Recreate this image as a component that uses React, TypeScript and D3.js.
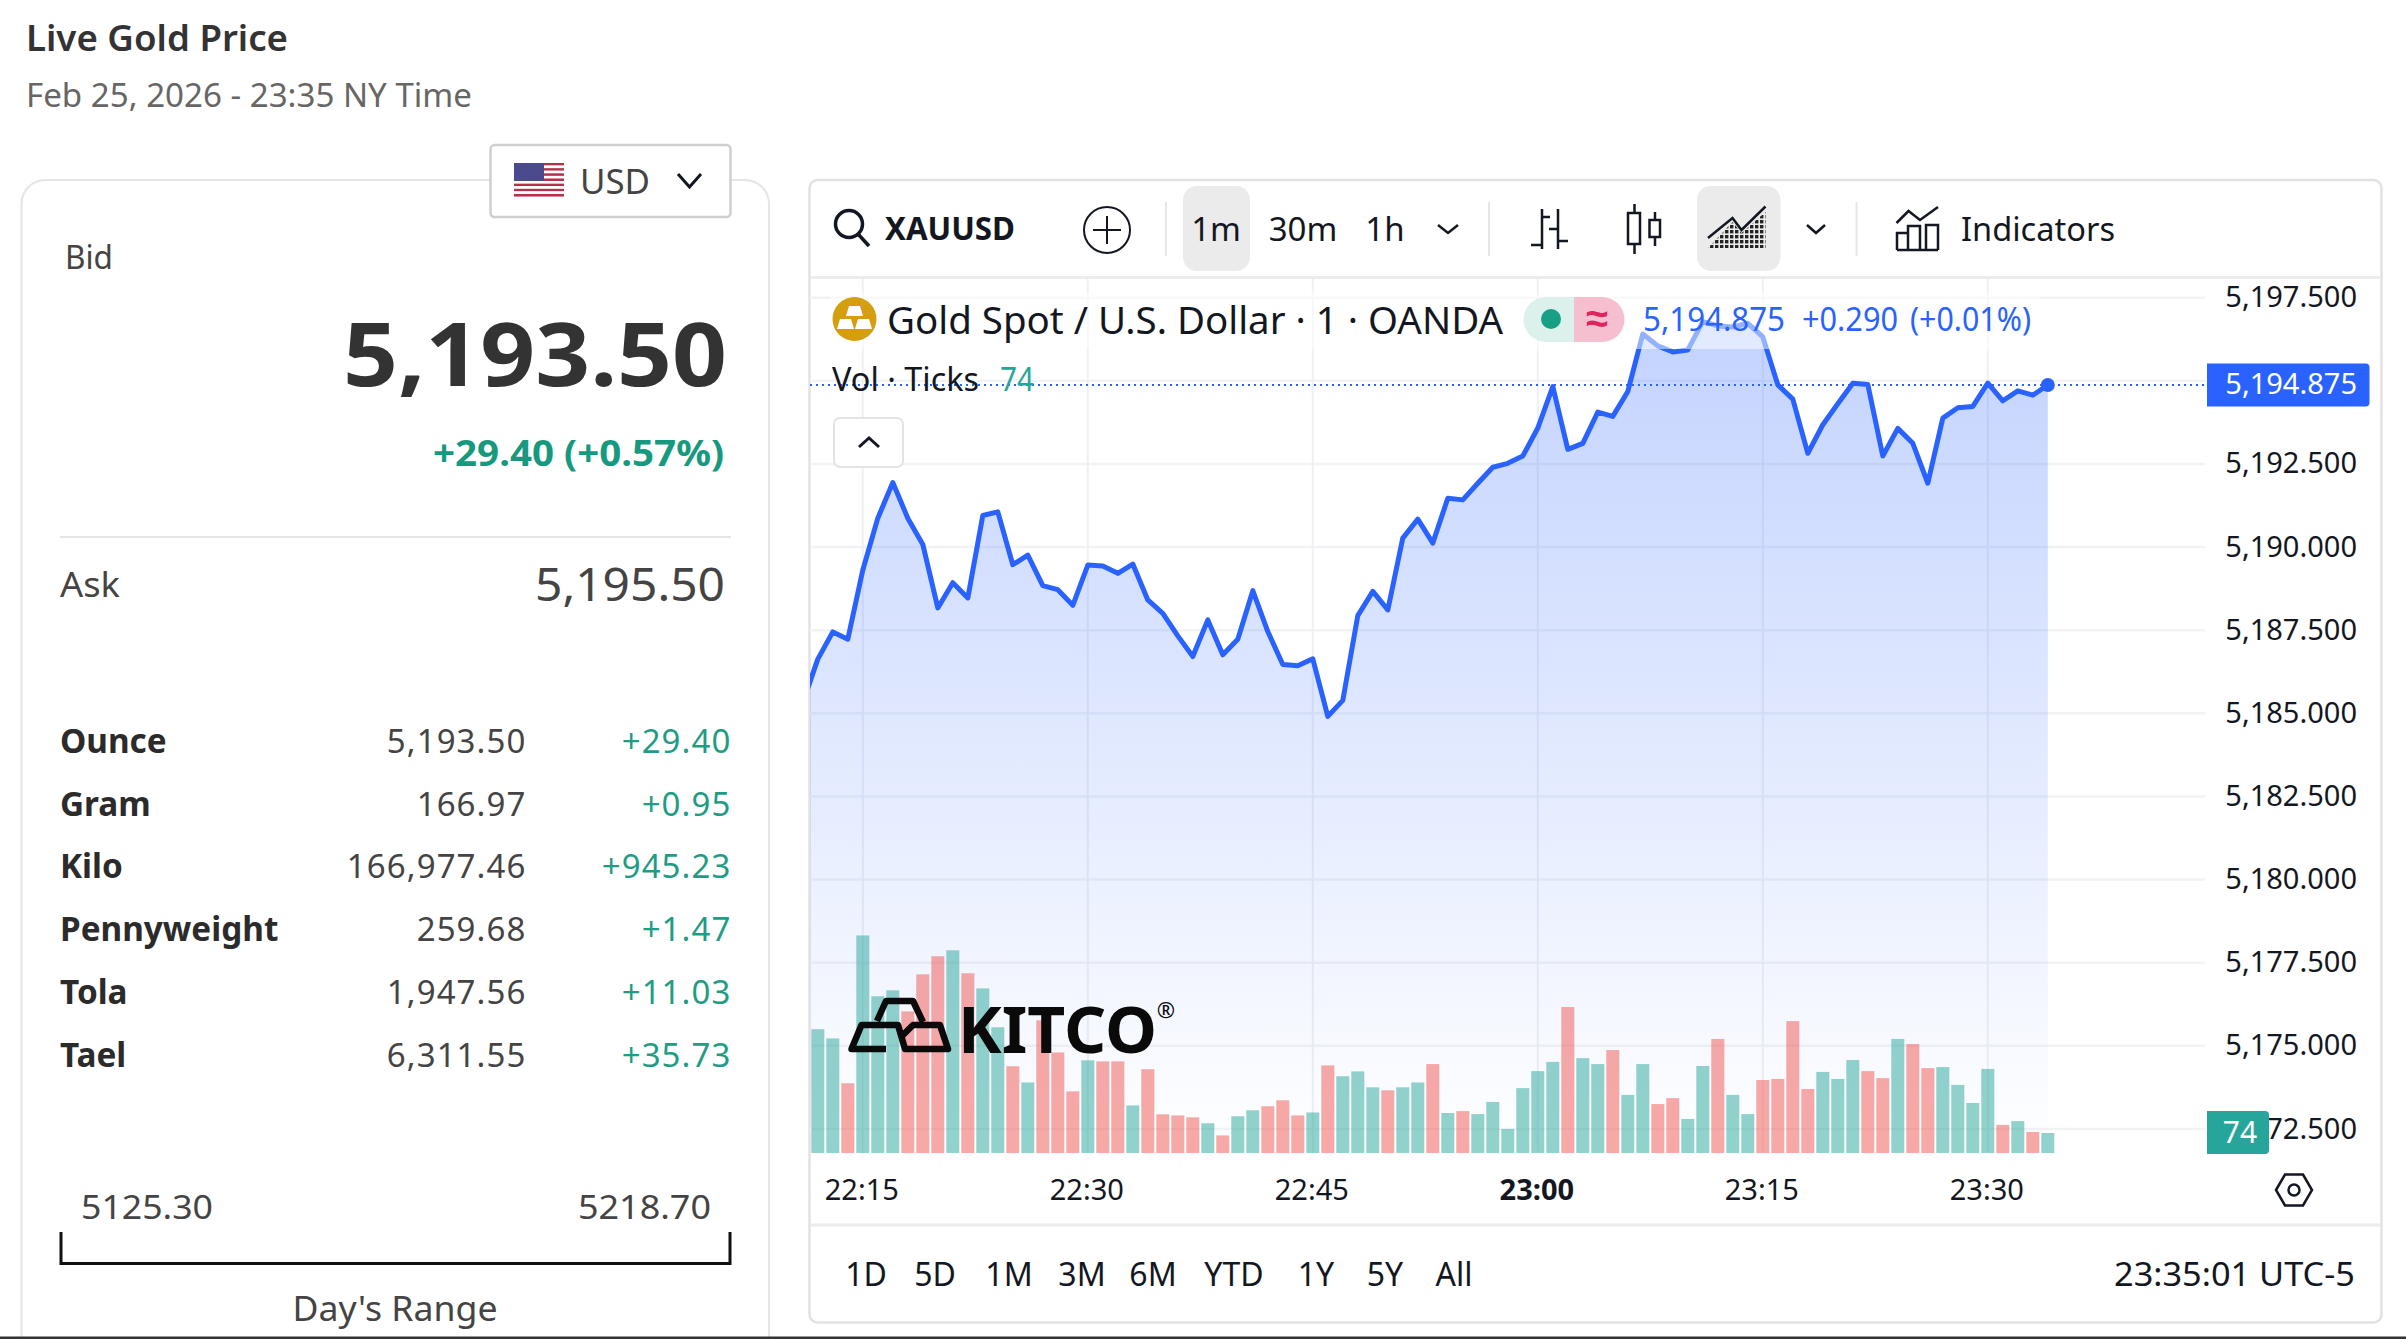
import React, { useRef, useEffect } from 'react';
import * as d3 from 'd3';

//price closes, one per minute from 22:11
const prices = [
  5185.32, 5186.63, 5187.45, 5187.23, 5189.31, 5190.87, 5191.94, 5190.87, 5190.08, 5188.17,
  5188.93, 5188.47, 5190.95, 5191.06, 5189.47, 5189.76, 5188.84, 5188.72, 5188.25, 5189.46,
  5189.43, 5189.21, 5189.49, 5188.41, 5188.01, 5187.33, 5186.71, 5187.81, 5186.76, 5187.23,
  5188.69, 5187.46, 5186.47, 5186.43, 5186.64, 5184.91, 5185.39, 5187.94, 5188.67, 5188.11,
  5190.27, 5190.84, 5190.12, 5191.47, 5191.42, 5191.92, 5192.40, 5192.52, 5192.74, 5193.58,
  5194.83, 5192.94, 5193.12, 5194.06, 5193.93, 5194.68, 5196.41, 5196.05, 5195.87, 5195.93,
  5196.78, 5196.65, 5196.62, 5196.73, 5196.32, 5194.88, 5194.45, 5192.82, 5193.68, 5194.31,
  5194.93, 5194.89, 5192.74, 5193.57, 5193.12, 5191.92, 5193.88, 5194.19, 5194.23, 5194.93,
  5194.40, 5194.70, 5194.57, 5194.875,
];

//tick volume, one per minute from 22:12
const volumes = [
  458, 424, 258, 805, 580, 602, 524, 661, 728, 750, 665, 609, 465, 321, 261, 491, 372, 228, 343, 339,
  339, 176, 310, 143, 139, 132, 110, 65, 136, 158, 173, 195, 139, 150, 324, 284, 302, 243, 232, 243,
  261, 329, 148, 155, 144, 189, 89, 240, 303, 337, 540, 351, 329, 381, 215, 329, 181, 203, 126, 322,
  422, 215, 144, 270, 274, 488, 237, 300, 274, 344, 303, 277, 422, 403, 314, 318, 252, 185, 311, 104,
  118, 78, 74,
];
//g = up bar, r = down bar
const volumeSides = 'ggrgggrrrgrggrgrrrgrrgrrrrgrggrrrgrgggrgg' + 'rgrggggggrggrggrrggrggrrrrgggrrgrrggggrgrg';

const priceTicks = [5197.5, 5195, 5192.5, 5190, 5187.5, 5185, 5182.5, 5180, 5177.5, 5175, 5172.5];
const priceTickLabels = [5197.5, 5192.5, 5190, 5187.5, 5185, 5182.5, 5180, 5177.5, 5175, 5172.5];
const timeTicks: [number, number][] = [[22, 15], [22, 30], [22, 45], [23, 0], [23, 15], [23, 30]];
const lastPrice = 5194.875;

const weightRows = ['Ounce', 'Gram', 'Kilo', 'Pennyweight', 'Tola', 'Tael'];
const weightValues = ['5,193.50', '166.97', '166,977.46', '259.68', '1,947.56', '6,311.55'];
const weightChanges = ['+29.40', '+0.95', '+945.23', '+1.47', '+11.03', '+35.73'];
const weightBaselines = [752.5, 815.5, 878, 940.5, 1003.5, 1066.5];

const rangeButtons = ['1D', '5D', '1M', '3M', '6M', 'YTD', '1Y', '5Y', 'All'];
const rangeCenters = [866, 935, 1009, 1082, 1153, 1234, 1316, 1385, 1454];

const minuteDate = (i: number) => new Date(2026, 1, 25, 22, 11 + i);
const INK = '#131722';
const BLUE = '#2962ff';
const FONT = '"Noto Sans", sans-serif';

const T = ({ x, y, s, size, w = 400, fill = '#333', a = 'start', len, ls, font = FONT }: any) => (
  <text x={x} y={y} fontSize={size} fontWeight={w} fill={fill} textAnchor={a} fontFamily={font} letterSpacing={ls}
    {...(len ? { textLength: len, lengthAdjust: 'spacingAndGlyphs' } : {})}>{s}</text>
);

const Chevron = ({ x, y, w, h, sw = 2.5 }: any) => (
  <path d={`M${x} ${y}L${x + w / 2} ${y + h}L${x + w} ${y}`} fill="none" stroke={INK} strokeWidth={sw} />
);

export default function App() {
  const chartRef = useRef<SVGGElement>(null);

  useEffect(() => {
    if (!chartRef.current) return;
    const g = d3.select(chartRef.current);
    g.selectAll('*').remove();

    //scales
    const xScale = d3.scaleTime()
      .domain([minuteDate(0), minuteDate(prices.length - 1)])
      .range([802.8, 2047.8]);
    const yScale = d3.scaleLinear().domain([5172.5, 5197.5]).range([1129, 297.7]);
    const volScale = d3.scaleLinear().domain([0, 74]).range([1153, 1133]);

    //grid
    priceTicks.forEach(p => {
      g.append('line').attr('x1', 810).attr('x2', 2205)
        .attr('y1', yScale(p)).attr('y2', yScale(p))
        .attr('stroke', '#f2f3f5').attr('stroke-width', 2.5);
    });
    timeTicks.forEach(([h, m]) => {
      const x = xScale(new Date(2026, 1, 25, h, m));
      g.append('line').attr('x1', x).attr('x2', x).attr('y1', 279).attr('y2', 1153)
        .attr('stroke', '#eef0f6').attr('stroke-width', 2);
    });

    //clip and gradient
    const defs = g.append('defs');
    defs.append('clipPath').attr('id', 'pane').append('rect')
      .attr('x', 810).attr('y', 279).attr('width', 1395).attr('height', 945);
    const grad = defs.append('linearGradient').attr('id', 'areaFill')
      .attr('gradientUnits', 'userSpaceOnUse')
      .attr('x1', 0).attr('x2', 0).attr('y1', yScale(d3.max(prices)!)).attr('y2', 1153);
    grad.append('stop').attr('offset', 0).attr('stop-color', BLUE).attr('stop-opacity', 0.28);
    grad.append('stop').attr('offset', 1).attr('stop-color', BLUE).attr('stop-opacity', 0);

    const pane = g.append('g').attr('clip-path', 'url(#pane)');

    const area = d3.area<number>()
      .x((_, i) => xScale(minuteDate(i)))
      .y0(1153)
      .y1(d => yScale(d));
    pane.append('path').datum(prices).attr('fill', 'url(#areaFill)').attr('d', area);

    //volume bars
    pane.selectAll('rect.vol').data(volumes).enter().append('rect')
      .attr('class', 'vol')
      .attr('x', (_, i) => xScale(minuteDate(i + 1)) - 6.5)
      .attr('width', 13)
      .attr('y', d => volScale(d))
      .attr('height', d => 1153 - volScale(d))
      .attr('fill', (_, i) => volumeSides[i] === 'g' ? 'rgba(38,166,154,0.5)' : 'rgba(239,83,80,0.5)');

    //price line
    const line = d3.line<number>()
      .x((_, i) => xScale(minuteDate(i)))
      .y(d => yScale(d));
    pane.append('path').datum(prices)
      .attr('fill', 'none').attr('stroke', BLUE).attr('stroke-width', 5)
      .attr('stroke-linejoin', 'round').attr('d', line);

    //last price line
    g.append('line').attr('x1', 810).attr('x2', 2206)
      .attr('y1', yScale(lastPrice)).attr('y2', yScale(lastPrice))
      .attr('stroke', BLUE).attr('stroke-width', 2).attr('stroke-dasharray', '2 4');
    g.append('circle').attr('cx', xScale(minuteDate(prices.length - 1))).attr('cy', yScale(lastPrice))
      .attr('r', 7).attr('fill', BLUE);

    //axes
    const yAxis = d3.axisRight(yScale)
      .tickValues(priceTickLabels)
      .tickSize(0)
      .tickFormat(d => d3.format(',.3f')(d as number));
    const yG = g.append('g').attr('transform', 'translate(2357, 0)').call(yAxis);
    yG.select('.domain').remove();
    yG.selectAll('text').attr('x', 0).attr('text-anchor', 'end').attr('dy', '0.31em')
      .attr('fill', INK).attr('font-size', 29).attr('font-family', FONT);

    const xAxis = d3.axisBottom(xScale)
      .tickValues(timeTicks.map(([h, m]) => new Date(2026, 1, 25, h, m)))
      .tickSize(0)
      .tickFormat(d => d3.timeFormat('%H:%M')(d as Date));
    const xG = g.append('g').attr('transform', 'translate(-1.5, 1170)').call(xAxis);
    xG.select('.domain').remove();
    xG.selectAll('text').attr('y', 0).attr('dy', 30)
      .attr('fill', INK).attr('font-size', 29).attr('font-family', FONT)
      .attr('font-weight', (d: any) => d.getHours() === 23 && d.getMinutes() === 0 ? 700 : 400);

    //volume tag on the scale
    const vy = volScale(volumes[volumes.length - 1]);
    g.append('path').attr('d', `M2207 ${vy - 22}H2265a4 4 0 0 1 4 4V${vy + 17}a4 4 0 0 1 -4 4H2207Z`)
      .attr('fill', '#26a69a');
    g.append('text').attr('x', 2240).attr('y', vy + 10).attr('text-anchor', 'middle')
      .attr('fill', '#fff').attr('font-size', 30).attr('font-family', FONT)
      .text(volumes[volumes.length - 1]);
  }, []);

  const flagStripes = d3.range(13);

  return (
    <svg width={2406} height={1339} style={{ position: 'fixed', left: 0, top: 0, background: '#fff' }}>
      <defs>
        <pattern id="hatch" width="5" height="5" patternUnits="userSpaceOnUse">
          <rect width="3.4" height="3.4" fill="#222" />
        </pattern>
      </defs>

      {/* page header */}
      <T x={26} y={50.5} s="Live Gold Price" size={36} w={600} fill="#333" len={262} />
      <T x={26} y={106.5} s="Feb 25, 2026 - 23:35 NY Time" size={33} fill="#666" len={446} />

      {/* left card */}
      <path d="M21.5 1337V204a24 24 0 0 1 24 -24H745a24 24 0 0 1 24 24V1337" fill="none" stroke="#e5e5e8" strokeWidth={2} />
      <rect x={490.5} y={145} width={240} height={72} rx={4} fill="#fff" stroke="#cfcfcf" strokeWidth={2.5} />
      {flagStripes.map(i => (
        <rect key={i} x={514} y={163 + i * 2.58} width={50} height={2.6} fill={i % 2 ? '#fff' : '#b5304a'} />
      ))}
      <rect x={514} y={163} width={30} height={18} fill="#4a4a8c" />
      <T x={580} y={194} s="USD" size={34} fill="#444" len={70} />
      <Chevron x={678} y={174} w={23} h={13} sw={3} />

      <T x={65} y={268.5} s="Bid" size={32} fill="#444" len={48} />
      <T x={727} y={385.5} s="5,193.50" size={88} w={700} a="end" fill="#333" len={384} />
      <T x={724} y={465.5} s="+29.40 (+0.57%)" size={36} w={700} a="end" fill="#16997f" len={291} />
      <line x1={60} x2={731} y1={537} y2={537} stroke="#e5e5e8" strokeWidth={2} />
      <T x={60} y={596.5} s="Ask" size={34} fill="#444" len={60} />
      <T x={725} y={601} s="5,195.50" size={45} a="end" fill="#444" len={190} />

      {weightRows.map((r, i) => (
        <g key={r}>
          <T x={60} y={weightBaselines[i]} s={r} size={33.3} w={700} fill="#2b2b2b" />
          <T x={526.5} y={weightBaselines[i]} s={weightValues[i]} size={33} a="end" fill="#444" ls={1.1} />
          <T x={731.5} y={weightBaselines[i]} s={weightChanges[i]} size={33} a="end" fill="#1f9c84" ls={1.1} />
        </g>
      ))}

      <T x={81} y={1218.5} s="5125.30" size={33} fill="#444" len={132} />
      <T x={578} y={1218.5} s="5218.70" size={33} fill="#444" len={133} />
      <path d="M61 1232V1263.5H730V1232" fill="none" stroke="#111" strokeWidth={3} />
      <T x={395} y={1320.5} s="Day's Range" size={34} a="middle" fill="#444" len={205} />

      {/* chart card */}
      <rect x={809.5} y={180} width={1572} height={1142.5} rx={8} fill="#fff" stroke="#e2e2e2" strokeWidth={2.5} />
      <line x1={810} x2={2381} y1={277.5} y2={277.5} stroke="#ececec" strokeWidth={3} />
      <line x1={810} x2={2381} y1={1225} y2={1225} stroke="#ececec" strokeWidth={3} />

      {/* toolbar */}
      <circle cx={849} cy={224} r={13.5} fill="none" stroke={INK} strokeWidth={3.5} />
      <line x1={858} x2={869} y1={234} y2={246} stroke={INK} strokeWidth={3.5} />
      <T x={885} y={240} s="XAUUSD" size={32} w={700} fill={INK} len={130} />
      <circle cx={1107} cy={230} r={23} fill="none" stroke={INK} strokeWidth={2} />
      <path d="M1107 216V244M1093 230H1121" stroke={INK} strokeWidth={2} />
      <line x1={1166} x2={1166} y1={202} y2={256} stroke="#e4e6ec" strokeWidth={2} />
      <rect x={1183} y={186} width={67} height={85} rx={14} fill="#ebebeb" />
      <T x={1216} y={241} s="1m" size={33} a="middle" fill={INK} />
      <T x={1303} y={241} s="30m" size={33} a="middle" fill={INK} />
      <T x={1385} y={241} s="1h" size={33} a="middle" fill={INK} />
      <Chevron x={1438} y={225} w={20} h={8} />
      <line x1={1489} x2={1489} y1={202} y2={256} stroke="#e4e6ec" strokeWidth={2} />
      <path d="M1542 209V249M1531 245H1542M1542 217H1550M1558 209V249M1558 229H1549M1558 241H1568" fill="none" stroke={INK} strokeWidth={2.5} />
      <path d="M1634.5 204V254M1655 212V246" stroke={INK} strokeWidth={2.5} />
      <rect x={1628} y={213} width={12} height={31} fill="#fff" stroke={INK} strokeWidth={2.5} />
      <rect x={1649.5} y={220} width={10.5} height={17} fill="#fff" stroke={INK} strokeWidth={2.5} />
      <rect x={1697} y={186} width={83.5} height={85} rx={14} fill="#ebebeb" />
      <path d="M1708 248L1732.5 222L1741.5 233L1765.5 212V248Z" fill="url(#hatch)" />
      <path d="M1708 238L1732.5 218L1741.5 230L1765.5 206.5" fill="none" stroke={INK} strokeWidth={2.5} />
      <Chevron x={1807} y={225} w={18} h={8} />
      <line x1={1856.5} x2={1856.5} y1={202} y2={256} stroke="#e4e6ec" strokeWidth={2} />
      <path d="M1896.5 223L1908.5 211L1920 220L1938 207" fill="none" stroke={INK} strokeWidth={2.5} />
      <path d="M1897 250V233H1908V250M1908 250V226H1920V250M1926 250V225H1938V250M1897 250H1938" fill="none" stroke={INK} strokeWidth={2.5} />
      <T x={1961} y={241} s="Indicators" size={33} fill={INK} len={154} />

      <g ref={chartRef} />

      {/* legend over the pane */}
      <rect x={830} y={292} width={1210} height={57} fill="#fff" opacity={0.5} />
      <circle cx={854.5} cy={319} r={22} fill="#d49e0f" />
      <path d="M849 306H860L863 316H846ZM837 329L840 319H851L854 329ZM855 329L858 319H869L872 329Z" fill="#fff" />
      <T x={887} y={334} s="Gold Spot / U.S. Dollar · 1 · OANDA" size={38} fill={INK} len={616} />
      <path d="M1574 297H1546a22.5 22.5 0 0 0 0 45H1574Z" fill="#dcf1ec" />
      <circle cx={1551} cy={319} r={10} fill="#17a086" />
      <path d="M1574 297H1602a22.5 22.5 0 0 1 0 45H1574Z" fill="#f5bfd0" />
      <text x={1597} y={332} fontSize={40} fill="#e0245e" textAnchor="middle" fontWeight={700} fontFamily={FONT}>≈</text>
      <T x={1643} y={331} s="5,194.875" size={32} fill={BLUE} len={142} />
      <T x={1802} y={331} s="+0.290" size={32} fill={BLUE} len={96} />
      <T x={1910} y={331} s="(+0.01%)" size={32} fill={BLUE} len={121} />
      <T x={832} y={391} s="Vol · Ticks" size={32} fill={INK} len={147} />
      <T x={1000} y={391} s="74" size={32} fill="#26a69a" len={34} />
      <rect x={834} y={418} width={69} height={49} rx={6} fill="#fff" stroke="#e2e4ea" strokeWidth={2} />
      <path d="M859 447L869 438L879 447" fill="none" stroke={INK} strokeWidth={3} />

      {/* last price tag */}
      <path d="M2207 363.5H2365.5a4 4 0 0 1 4 4V402.5a4 4 0 0 1 -4 4H2207Z" fill={BLUE} />
      <T x={2357} y={394} s="5,194.875" size={29} a="end" fill="#fff" />

      {/* kitco mark */}
      <g fill="none" stroke="#0a0a0a" strokeWidth={6.5} strokeLinejoin="round">
        <path d="M877 1021L886 1001H913L923 1022" />
        <path d="M886 1049H851.5L861.5 1025H898L905 1049H948L940 1025H913L902 1036" />
      </g>
      <T x={958} y={1053} s="KITCO" size={64} w={700} fill="#0a0a0a" len={199} />
      <T x={1166} y={1018} s="®" size={22} a="middle" fill="#0a0a0a" />

      {/* scale settings */}
      <path d="M2276 1190L2285 1174.5H2303L2312 1190L2303 1205.5H2285Z" fill="none" stroke={INK} strokeWidth={2.5} />
      <circle cx={2294} cy={1190} r={5.5} fill="none" stroke={INK} strokeWidth={2.5} />

      {/* bottom row */}
      {rangeButtons.map((b, i) => (
        <T key={b} x={rangeCenters[i]} y={1285.5} s={b} size={32} a="middle" fill={INK} />
      ))}
      <T x={2355} y={1285.5} s="23:35:01 UTC-5" size={32} a="end" fill={INK} len={241} />

      <rect x={0} y={1336.5} width={2406} height={2.5} fill="#333" />
    </svg>
  );
}
